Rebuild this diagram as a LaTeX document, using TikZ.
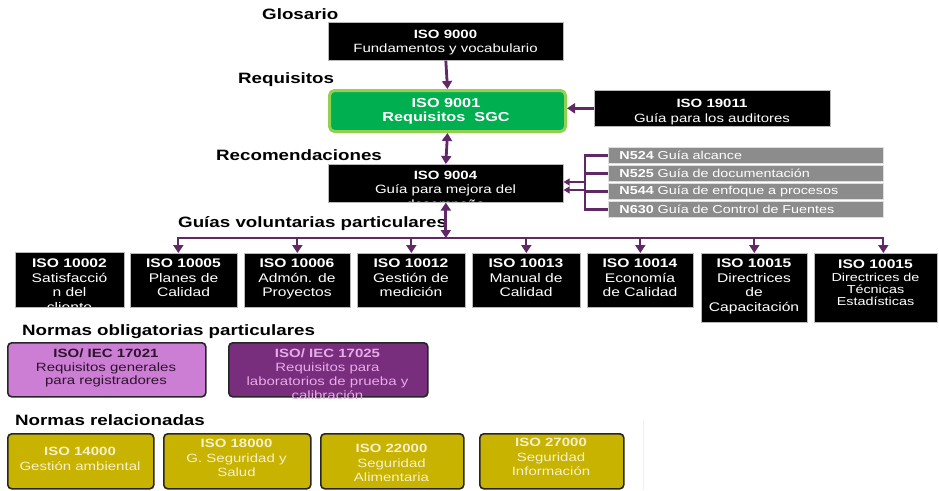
\documentclass[tikz,border=0pt]{standalone}
\usepackage{fontspec}
\setmainfont{Liberation Sans}[FakeStretch=1.25]
\usetikzlibrary{arrows.meta}
\definecolor{arr}{RGB}{96,40,100}
\definecolor{sgc}{RGB}{0,176,80}
\definecolor{sgcb}{RGB}{146,208,80}
\definecolor{gbx}{RGB}{140,140,140}
\definecolor{orch}{RGB}{204,125,212}
\definecolor{orchtxt}{RGB}{45,20,45}
\definecolor{plum}{RGB}{120,45,125}
\definecolor{plumtxt}{RGB}{232,170,232}
\definecolor{ylw}{RGB}{200,180,0}
\definecolor{ylwtxt}{RGB}{246,240,200}
\tikzset{
  lab/.style={anchor=base west, inner sep=0pt, font=\bfseries\fontsize{15}{17}\selectfont},
  blk/.style={fill=black, draw=gray!55, line width=0.6pt, anchor=north west, inner sep=0pt},
  txt/.style={anchor=north, inner sep=0pt, align=center, text=white, font=\fontsize{12}{14.5}\selectfont},
  btxt/.style={txt, font=\fontsize{12.5}{14.5}\selectfont},
  gbox/.style={fill=gbx, draw=gray!25, line width=0.8pt, anchor=north west, minimum width=275pt, minimum height=16pt, inner xsep=11pt, inner ysep=0pt, text width=253pt, align=left, text=white, font=\fontsize{11.5}{13}\selectfont},
  rbox/.style={draw=black!85, line width=1.6pt, rounded corners=4pt, anchor=north west, inner sep=0pt},
  conn/.style={draw=arr, line width=2.8pt, -{Triangle[length=8pt,width=10pt]}},
  dconn/.style={draw=arr, line width=2.8pt, {Triangle[length=8pt,width=10pt]}-{Triangle[length=8pt,width=10pt]}},
  drop/.style={draw=arr, line width=2.2pt, -{Triangle[length=8pt,width=10pt]}},
  thin/.style={draw=arr, line width=2.2pt},
  thinarr/.style={draw=arr, line width=2pt, -{Triangle[length=6pt,width=7pt]}},
}
\begin{document}
\begin{tikzpicture}[x=1pt,y=-1pt]
\useasboundingbox[fill=white] (0,0) rectangle (939,490);

% labels
\node[lab] (lg) at (262,19) {Glosario};
\node[lab] (lr) at (238,83) {Requisitos};
\node[lab] (lrec) at (216,160) {Recomendaciones};
\node[lab] (lgv) at (178,227) {Guías voluntarias particulares};
\node[lab] (lno) at (22,335) {Normas obligatorias particulares};
\node[lab] (lnr) at (15,425) {Normas relacionadas};

% top boxes
\node[blk, minimum width=235pt, minimum height=38pt] (i9000) at (328,22) {};
\node[txt] (t9000) at (445.5,29.5) {\textbf{ISO 9000}\\Fundamentos y vocabulario};

\node[draw=sgcb, fill=sgc, line width=3pt, rounded corners=5pt, anchor=north west, minimum width=236pt, minimum height=41pt, inner sep=0pt] (i9001) at (328,89) {};
\node[txt, font=\bfseries\fontsize{13}{14}\selectfont] (t9001) at (446,98) {ISO 9001\\Requisitos\ \ SGC};

\node[blk, minimum width=236pt, minimum height=36pt] (i19011) at (594,90) {};
\node[txt] (t19011) at (712,99) {\textbf{ISO 19011}\\Guía para los auditores};

\node[blk, minimum width=235pt, minimum height=38pt] (i9004) at (328,164) {};
\begin{scope}
\clip (328.5,164.5) rectangle (562.5,201.5);
\node[txt] (t9004) at (445.5,170.5) {\textbf{ISO 9004}\\Guía para mejora del\\desempeño};
\end{scope}

% grey guides
\node[gbox] (n524) at (608,147) {\textbf{N524} Guía alcance};
\node[gbox] (n525) at (608,165) {\textbf{N525} Guía de documentación};
\node[gbox] (n544) at (608,183) {\textbf{N544} Guía de enfoque a procesos};
\node[gbox] (n630) at (608,201) {\textbf{N630} Guía de Control de Fuentes};

% connectors top
\draw[conn] (i9000.south) -- (i9001.north);
\draw[conn] (i19011.west) -- (i19011.west -| i9001.east);
\draw[dconn] (i9001.south) -- (i9004.north);

\draw[thin] (n524.west) -- ++(-23,0) |- (n630.west);
\draw[thin] (n525.west) -- ++(-23,0);
\draw[thin] (n544.west) -- ++(-23,0);
\coordinate (brA) at (585,182);
\coordinate (brB) at (585,190);
\draw[thinarr] (brA) -- (brA -| i9004.east);
\draw[thinarr] (brB) -- (brB -| i9004.east);

% bus
\coordinate (busL) at (177,238);
\coordinate (busR) at (884,238);
\draw[thin] (busL) -- (busR);
\draw[dconn] (i9004.south) -- (i9004.south |- busL);

% bottom row boxes
\node[blk, minimum width=109pt, minimum height=55pt] (b1) at (15,252) {};
\begin{scope}
\clip (15.5,252.5) rectangle (123.5,306.5);
\node[btxt] (tb1) at (69.5,259) {\textbf{ISO 10002}\\Satisfacció\\n del\\cliente};
\end{scope}
\node[blk, minimum width=107pt, minimum height=54pt] (b2) at (130,253) {};
\node[btxt] (tb2) at (183.5,259) {\textbf{ISO 10005}\\Planes de\\Calidad};
\node[blk, minimum width=106pt, minimum height=54pt] (b3) at (244,253) {};
\node[btxt] (tb3) at (297,259) {\textbf{ISO 10006}\\Admón. de\\Proyectos};
\node[blk, minimum width=108pt, minimum height=54pt] (b4) at (357,253) {};
\node[btxt] (tb4) at (411,259) {\textbf{ISO 10012}\\Gestión de\\medición};
\node[blk, minimum width=108pt, minimum height=54pt] (b5) at (472,253) {};
\node[btxt] (tb5) at (526,259) {\textbf{ISO 10013}\\Manual de\\Calidad};
\node[blk, minimum width=106pt, minimum height=54pt] (b6) at (587,253) {};
\node[btxt] (tb6) at (640,259) {\textbf{ISO 10014}\\Economía\\de Calidad};
\node[blk, minimum width=106pt, minimum height=69pt] (b7) at (701,253) {};
\node[btxt] (tb7) at (754,259) {\textbf{ISO 10015}\\Directrices\\de\\Capacitación};
\node[blk, minimum width=123pt, minimum height=69pt] (b8) at (814,253) {};
\node[btxt, font=\fontsize{11.5}{12}\selectfont] (tb8) at (875.5,260) {{\fontsize{12.5}{14.5}\selectfont\textbf{ISO 10015}}\\[1pt]Directrices de\\Técnicas\\Estadísticas};

% drops
\draw[drop] ([xshift=-5.5pt]b2.north |- busL) -- ([xshift=-5.5pt]b2.north);
\draw[drop] (b3.north |- busL) -- (b3.north);
\draw[drop] (b4.north |- busL) -- (b4.north);
\draw[drop] (b5.north |- busL) -- (b5.north);
\draw[drop] (b6.north |- busL) -- (b6.north);
\draw[drop] (b7.north |- busL) -- (b7.north);
\draw[drop] ([xshift=7.5pt]b8.north |- busL) -- ([xshift=7.5pt]b8.north);

% obligatory
\node[rbox, fill=orch, minimum width=198pt, minimum height=54pt] (o1) at (7,342) {};
\node[txt, text=orchtxt, font=\fontsize{12}{13.5}\selectfont] (to1) at (106,349) {\textbf{ISO/ IEC 17021}\\Requisitos generales\\para registradores};
\node[rbox, fill=plum, minimum width=199pt, minimum height=54pt] (o2) at (228,342) {};
\node[txt, text=plumtxt, font=\fontsize{12}{14}\selectfont] (to2) at (327.5,349) {\textbf{ISO/ IEC 17025}\\Requisitos para\\laboratorios de prueba y\\calibración};

% related
\node[rbox, fill=ylw, minimum width=146pt, minimum height=55pt] (y1) at (7,433) {};
\node[txt, text=ylwtxt] (ty1) at (80,447) {\textbf{ISO 14000}\\Gestión ambiental};
\node[rbox, fill=ylw, minimum width=147pt, minimum height=55pt] (y2) at (163,433) {};
\node[txt, text=ylwtxt] (ty2) at (236.5,439) {\textbf{ISO 18000}\\G. Seguridad y\\Salud};
\node[rbox, fill=ylw, minimum width=143pt, minimum height=55pt] (y3) at (320,433) {};
\node[txt, text=ylwtxt] (ty3) at (391.5,444) {\textbf{ISO 22000}\\Seguridad\\Alimentaria};
\node[rbox, fill=ylw, minimum width=144pt, minimum height=55pt] (y4) at (479,433) {};
\node[txt, text=ylwtxt] (ty4) at (551,438) {\textbf{ISO 27000}\\Seguridad\\Información};

\draw[gray!12, line width=1pt] (643,420) -- (643,490);
\end{tikzpicture}
\end{document}
